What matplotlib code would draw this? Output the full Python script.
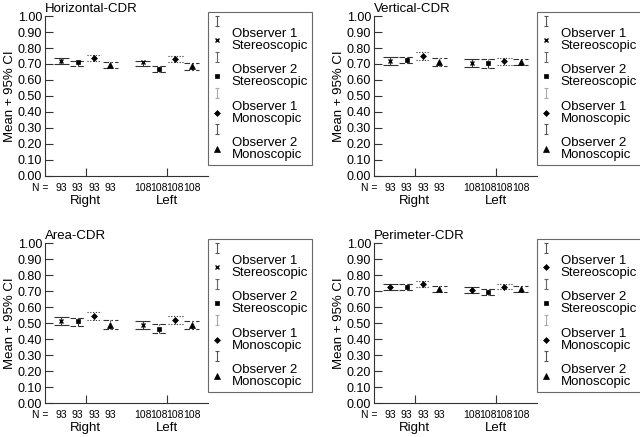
import numpy as np
import matplotlib
matplotlib.use('Agg')
import matplotlib.pyplot as plt
from matplotlib.path import Path
from matplotlib.lines import Line2D

plt.rcParams['font.family'] = ['Liberation Sans', 'DejaVu Sans']

groups = ['Right', 'Left']
n_per_group = [93, 108]
series = ['Observer 1\nStereoscopic', 'Observer 2\nStereoscopic',
          'Observer 1\nMonoscopic', 'Observer 2\nMonoscopic']
titles = ['Horizontal-CDR', 'Vertical-CDR', 'Area-CDR', 'Perimeter-CDR']

# order: Right obs1-st, obs2-st, obs1-mo, obs2-mo, then Left same
hcdr_mean = [0.720, 0.710, 0.740, 0.695, 0.710, 0.667, 0.733, 0.685]
hcdr_lo = [0.698, 0.690, 0.720, 0.675, 0.690, 0.648, 0.715, 0.662]
hcdr_hi = [0.735, 0.720, 0.754, 0.710, 0.720, 0.685, 0.750, 0.704]

vcdr_mean = [0.718, 0.725, 0.750, 0.712, 0.704, 0.704, 0.720, 0.713]
vcdr_lo = [0.694, 0.708, 0.725, 0.690, 0.680, 0.678, 0.692, 0.692]
vcdr_hi = [0.742, 0.742, 0.773, 0.735, 0.729, 0.729, 0.737, 0.732]

acdr_mean = [0.512, 0.510, 0.546, 0.490, 0.488, 0.465, 0.517, 0.487]
acdr_lo = [0.485, 0.479, 0.521, 0.463, 0.463, 0.437, 0.492, 0.460]
acdr_hi = [0.540, 0.533, 0.571, 0.517, 0.513, 0.494, 0.542, 0.513]

pcdr_mean = [0.723, 0.723, 0.745, 0.714, 0.705, 0.695, 0.728, 0.710]
pcdr_lo = [0.704, 0.704, 0.727, 0.694, 0.688, 0.676, 0.710, 0.692]
pcdr_hi = [0.742, 0.742, 0.765, 0.731, 0.725, 0.713, 0.744, 0.729]

panels = [(hcdr_mean, hcdr_lo, hcdr_hi),
          (vcdr_mean, vcdr_lo, vcdr_hi),
          (acdr_mean, acdr_lo, acdr_hi),
          (pcdr_mean, pcdr_lo, pcdr_hi)]

markers = ['x', 's', 'D', '^']
msizes = [3.5, 3.2, 3.0, 3.8]
styles = ['-', (0, (5, 2)), (0, (1, 1.5)), (0, (5, 2, 1.5, 2))]
icolors = ['#555555', '#666666', '#aaaaaa', '#555555']

ibeam = Path([(-0.45, 1), (0.45, 1), (0, 1), (0, -1), (-0.45, -1), (0.45, -1)],
             [Path.MOVETO, Path.LINETO, Path.MOVETO, Path.LINETO,
              Path.MOVETO, Path.LINETO])

line_col = '#333333'
fig = plt.figure(figsize=(6.4, 4.37), dpi=100)
W, H = 640.0, 437.0
boxes = [(45, 16), (374, 16), (45, 243), (374, 243)]
offsets = np.array([-0.3, -0.1, 0.1, 0.3])
xpos = np.repeat(np.arange(1, len(groups) + 1), 4) + np.tile(offsets, len(groups))
cw = 0.09

for k, (mean, lo, hi) in enumerate(panels):
    x0, y0 = boxes[k]
    ax = fig.add_axes([x0 / W, 1 - (y0 + 160) / H, 163 / W, 160 / H])
    mk = list(markers)
    if k == 3:
        mk[0] = 'D'
    mean, lo, hi = np.array(mean), np.array(lo), np.array(hi)
    for s in range(4):
        idx = np.arange(s, len(xpos), 4)
        xs = xpos[idx]
        ax.vlines(xs, lo[idx], hi[idx], colors=line_col, linestyles=styles[s], lw=0.8)
        ax.hlines(hi[idx], xs - cw, xs + cw, colors=line_col, linestyles=styles[s], lw=0.8)
        ax.hlines(lo[idx], xs - cw, xs + cw, colors=line_col, linestyles=styles[s], lw=0.8)
        ms = 3.0 if mk[s] == 'D' else msizes[s]
        ax.plot(xs, mean[idx], ls='none', marker=mk[s], ms=ms, color='black',
                mew=1.0 if mk[s] == 'x' else 0.5)

    ax.set_xlim(0.5, 2.5)
    ax.set_ylim(0, 1)
    ax.set_yticks(np.arange(0, 1.01, 0.1))
    ax.set_yticklabels(['%.2f' % v for v in np.arange(0, 1.01, 0.1)])
    ax.set_xticks(np.arange(1, len(groups) + 1))
    ax.set_xticklabels(groups, fontsize=9.5)
    ax.tick_params(axis='y', direction='in', length=6, width=0.8, colors=line_col,
                   labelcolor='black', labelsize=9, pad=2)
    ax.tick_params(axis='x', direction='in', length=6, width=0.8, colors=line_col,
                   labelcolor='black', pad=13.5)
    for sp in ['top', 'right']:
        ax.spines[sp].set_visible(False)
    for sp in ['left', 'bottom']:
        ax.spines[sp].set_color(line_col)
        ax.spines[sp].set_linewidth(0.8)
    ax.set_ylabel('Mean + 95% CI', fontsize=9.5, labelpad=1)
    ax.set_title(titles[k], loc='left', fontsize=9.5, pad=3)

    # N counts under each point
    trans = ax.get_xaxis_transform()
    for g, n in enumerate(n_per_group):
        for s in range(4):
            ax.text(xpos[g * 4 + s], -0.075, str(n), transform=trans,
                    ha='center', va='center', fontsize=7.5)
    ax.text(0.02, -0.075, 'N =', transform=ax.transAxes, ha='right',
            va='center', fontsize=7.5)

    handles, labels = [], []
    for s in range(4):
        handles.append(Line2D([], [], ls='none', marker=ibeam, ms=7,
                              mec=icolors[s], mew=0.8))
        labels.append('')
        ms = 3.0 if mk[s] == 'D' else msizes[s]
        handles.append(Line2D([], [], ls='none', marker=mk[s], ms=ms,
                              color='black', mew=1.0 if mk[s] == 'x' else 0.5))
        labels.append(series[s])
    leg = ax.legend(handles, labels, loc='upper left', bbox_to_anchor=(1.0, 1.025),
                    frameon=True, fancybox=False, edgecolor='#444444',
                    fontsize=9.5, handlelength=0.8, handletextpad=0.7,
                    labelspacing=0.0, borderpad=0.3, borderaxespad=0)
    leg.get_frame().set_linewidth(0.8)
    for t in leg.get_texts():
        t.set_linespacing(1.0)

fig.savefig('out.png', dpi=100)
